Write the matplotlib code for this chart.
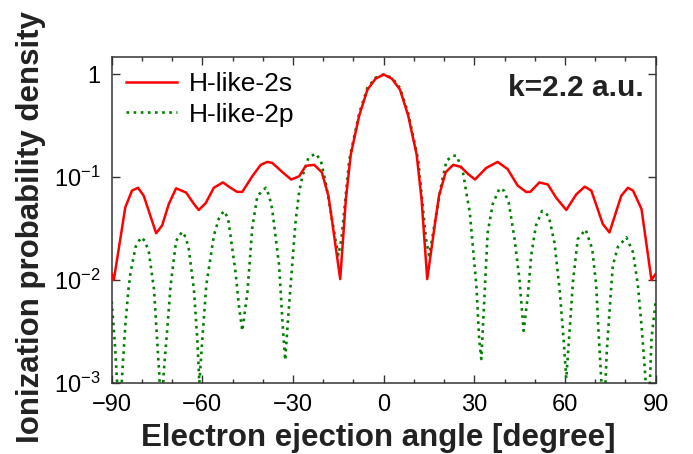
import matplotlib
matplotlib.use("Agg")
import matplotlib.pyplot as plt
from matplotlib.ticker import FixedLocator, MultipleLocator, NullLocator

plt.rcParams['font.family'] = ['Liberation Sans', 'DejaVu Sans']
plt.rcParams['mathtext.default'] = 'regular'

# angular distributions at k = 2.2 a.u. (angle in degrees, density)
angle_2s = [-90, -89.3, -85.5, -83.3, -81.3, -79.4, -75.3, -73.3, -71.1, -68.7,
            -65.4, -62.8, -61.2, -58.9, -56.2, -53.2, -50.7, -48.5, -46.8, -43.5,
            -40.7, -38.5, -36.9, -33.5, -30.6, -28.0, -25.8, -23.0, -20.5, -18.3,
            -17.0, -14.4, -12.5, -10.9, -8.1, -5.4, -2.7, 0,
            2.7, 5.4, 8.1, 10.9, 12.5, 14.4, 17.0, 18.3, 20.5, 23.0,
            25.5, 28.0, 30.2, 33.9, 37.7, 41.0, 44.3, 47.1, 48.5, 51.5,
            54.3, 57.1, 60.4, 63.7, 66.5, 68.7, 72.5, 74.7, 78.6, 80.8,
            82.5, 85.3, 88.6, 90]
dens_2s = [1.15e-2, 1.0e-2, 5.1e-2, 7.4e-2, 7.9e-2, 6.6e-2, 2.85e-2, 3.4e-2, 5.5e-2, 7.8e-2,
           7.1e-2, 5.5e-2, 4.8e-2, 5.6e-2, 7.9e-2, 8.9e-2, 7.9e-2, 7.2e-2, 7.2e-2, 1.02e-1,
           1.32e-1, 1.41e-1, 1.38e-1, 1.12e-1, 9.5e-2, 1.02e-1, 1.29e-1, 1.32e-1, 1.12e-1, 6.6e-2,
           3.6e-2, 1.02e-2, 6.2e-2, 1.66e-1, 3.98e-1, 7.1e-1, 9.1e-1, 1.0,
           9.1e-1, 7.1e-1, 3.98e-1, 1.66e-1, 6.2e-2, 1.02e-2, 3.6e-2, 6.6e-2, 1.12e-1, 1.32e-1,
           1.26e-1, 1.07e-1, 9.5e-2, 1.23e-1, 1.41e-1, 1.20e-1, 8.3e-2, 7.2e-2, 7.2e-2, 8.9e-2,
           8.5e-2, 6.3e-2, 4.8e-2, 6.8e-2, 8.1e-2, 7.4e-2, 3.5e-2, 2.9e-2, 6.6e-2, 7.9e-2,
           7.4e-2, 4.9e-2, 1.0e-2, 1.15e-2]

angle_2p = [-90, -89.0, -87.4, -86.5, -85.5, -84.5, -83.8, -82.1, -80.3, -79.0,
            -77.7, -76.0, -75.0, -74.3, -73.5, -72.8, -71.7, -70.5, -68.7, -66.7,
            -65.5, -64.5, -62.8, -61.7, -61.0, -60.0, -58.7, -56.2, -54.5, -52.9,
            -51.5, -50.7, -49.0, -47.9, -46.8, -45.9, -45.1, -43.5, -41.8, -39.0,
            -37.9, -36.9, -34.6, -33.5, -32.6, -31.7, -30.8, -29.1, -28.0, -26.9,
            -24.9, -22.5, -20.8, -19.2, -17.5, -16.0, -15.0, -14.0, -13.1, -11.4,
            -8.1, -5.4, -2.7, 0,
            2.7, 5.4, 8.1, 11.4, 13.1, 14.0, 15.0, 16.0, 17.5, 19.2,
            20.8, 22.9, 24.1, 26.1, 27.4, 28.5, 29.6, 30.7, 31.6, 32.3,
            33.3, 34.4, 36.1, 38.3, 39.8, 41.4, 43.3, 44.9, 46.3, 47.7,
            48.8, 50.4, 52.4, 54.6, 56.5, 58.2, 59.5, 60.4, 61.5, 62.6,
            64.2, 66.8, 69.0, 70.3, 71.2, 72.8, 73.8, 74.7, 75.8, 77.5,
            80.3, 82.5, 84.1, 85.3, 86.3, 87.6, 88.6, 90]
dens_2p = [6.2e-3, 2.5e-3, 4e-4, 1.26e-3, 3.6e-3, 7.9e-3, 1.17e-2, 2.1e-2, 2.6e-2, 2.4e-2,
           1.86e-2, 8.1e-3, 2.7e-3, 1.26e-3, 4e-4, 1.26e-3, 3.1e-3, 8.9e-3, 2.4e-2, 2.95e-2,
           2.6e-2, 2.0e-2, 8.1e-3, 2.7e-3, 1.0e-3, 2.7e-3, 8.9e-3, 2.7e-2, 4.0e-2, 4.7e-2,
           4.0e-2, 2.7e-2, 1.17e-2, 5.6e-3, 3.2e-3, 5.0e-3, 7.6e-3, 3.2e-2, 6.6e-2, 7.9e-2,
           6.6e-2, 4.9e-2, 1.38e-2, 3.9e-3, 1.66e-3, 4.0e-3, 8.9e-3, 3.9e-2, 7.1e-2, 1.02e-1,
           1.55e-1, 1.70e-1, 1.45e-1, 8.9e-2, 4.6e-2, 2.5e-2, 1.74e-2, 2.5e-2, 4.6e-2, 1.48e-1,
           4.2e-1, 7.4e-1, 9.3e-1, 1.0,
           9.3e-1, 7.4e-1, 4.2e-1, 1.48e-1, 4.6e-2, 2.5e-2, 1.74e-2, 2.5e-2, 4.6e-2, 8.9e-2,
           1.45e-1, 1.62e-1, 1.62e-1, 1.17e-1, 6.9e-2, 4.5e-2, 1.95e-2, 8.5e-3, 2.6e-3, 1.70e-3,
           6.6e-3, 2.9e-2, 5.5e-2, 7.8e-2, 7.4e-2, 5.6e-2, 2.5e-2, 1.02e-2, 3.2e-3, 7.1e-3,
           1.74e-2, 3.4e-2, 4.7e-2, 4.2e-2, 2.3e-2, 8.1e-3, 2.7e-3, 1.1e-3, 3.2e-3, 9.5e-3,
           2.5e-2, 3.1e-2, 2.0e-2, 8.9e-3, 2.7e-3, 4e-4, 2.0e-3, 4.9e-3, 1.38e-2, 2.1e-2,
           2.6e-2, 1.86e-2, 8.9e-3, 3.6e-3, 1.48e-3, 4e-4, 2.7e-3, 6.2e-3]

x_ticks = [-90, -60, -30, 0, 30, 60, 90]
y_ticks = [1e-3, 1e-2, 1e-1, 1]
y_tick_labels = ['10$^{-3}$', '10$^{-2}$', '10$^{-1}$', '1']

fig = plt.figure(figsize=(6.93, 4.54), dpi=100)
ax = fig.add_axes([0.1612, 0.157, 0.785, 0.7168])

ax.plot(angle_2s, dens_2s, color='#ff0000', lw=1.8, label='H-like-2s', zorder=3)
ax.plot(angle_2p, dens_2p, color='#008000', lw=1.9, linestyle=(0, (1, 1.7)),
        label='H-like-2p', zorder=2)

ax.set_yscale('log')
ax.set_xlim(-90, 90)
ax.set_ylim(1e-3, 1.47)

ax.xaxis.set_major_locator(FixedLocator(x_ticks))
ax.xaxis.set_minor_locator(MultipleLocator(10))
ax.yaxis.set_major_locator(FixedLocator(y_ticks))
ax.yaxis.set_minor_locator(NullLocator())
ax.set_yticklabels(y_tick_labels)

ax.tick_params(which='both', direction='in', top=True, right=True,
               color='#333333', width=1.0)
ax.tick_params(which='major', length=5.5, labelsize=17, pad=8)
ax.tick_params(which='minor', length=2.6)
for sp in ax.spines.values():
    sp.set_color('#333333')
    sp.set_linewidth(1.1)

ax.set_xlabel('Electron ejection angle [degree]', fontsize=22.5,
              fontweight='bold', color='#222222')
ax.xaxis.set_label_coords(0.49, -0.125)
ax.set_ylabel('Ionization probability density', fontsize=22.5,
              fontweight='bold', color='#222222')
ax.yaxis.set_label_coords(-0.12, 0.478)

ax.legend(loc='upper left', bbox_to_anchor=(0.027, 0.955), frameon=False,
          fontsize=19, handlelength=1.9, handletextpad=0.45,
          labelspacing=0.25, borderpad=0, borderaxespad=0)

ax.text(0.9785, 0.881, 'k=2.2 a.u.', transform=ax.transAxes, ha='right',
        va='baseline', fontsize=21.5, fontweight='bold', color='#222222')

fig.savefig('out.png', dpi=100)
